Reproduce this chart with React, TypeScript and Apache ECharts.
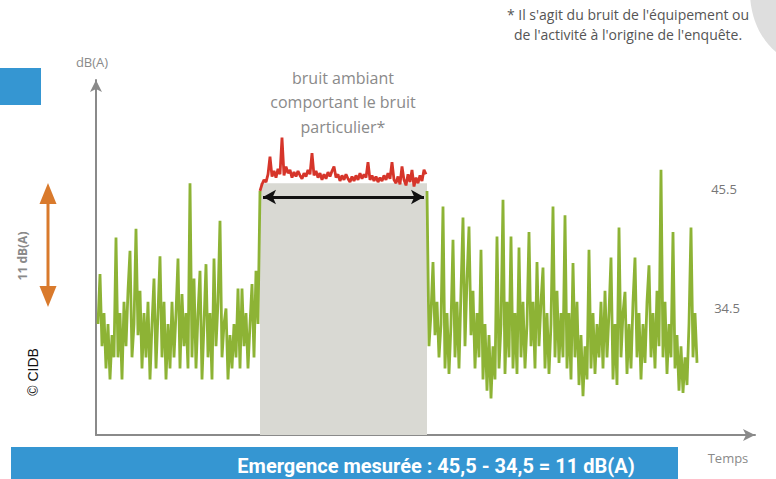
import React, { useEffect, useRef } from "react";
import * as echarts from "echarts";

// Time axis in arbitrary units; sampling step of the signal
const xStep = 2;
const leftStart = 2;
const redStart = 164;
const rightStart = 331;

// Residual noise before the activity (dB(A))
const greenLeft = [
  33, 37.5, 31, 34, 29, 33, 28, 32, 30, 40.8,
  30, 34, 28, 35, 31, 36, 39.6, 30, 33, 41.6,
  32, 36, 29, 34, 30, 35, 28, 33, 37.1, 29,
  34, 39.1, 30, 35, 28, 33, 29, 35, 30, 34,
  38.9, 29, 35.7, 31, 34, 29, 45.7, 30, 37.1, 29,
  34, 37.8, 28, 33, 38.4, 30, 34, 28, 38.9, 31,
  35, 42.3, 30, 33, 34.4, 28, 32, 29, 33, 30,
  36.2, 29, 36.2, 31, 34, 29, 33, 36.6, 30, 37.8,
  33, 45,
];

// Ambient noise including the particular noise (dB(A))
const redValues = [
  45.0, 45.6, 46.0, 45.8, 46.5, 48.1, 46.3, 46.8, 46.2, 47.0,
  46.5, 49.8, 46.4, 47.2, 46.6, 46.9, 46.2, 46.7, 46.3, 46.8,
  46.4, 46.1, 46.6, 46.3, 46.9, 46.5, 48.4, 46.4, 46.8, 46.2,
  46.6, 46.0, 46.5, 46.1, 46.7, 46.3, 46.8, 47.2, 46.2, 46.5,
  45.9, 46.4, 46.0, 46.5, 46.1, 45.8, 46.3, 45.9, 46.4, 46.0,
  46.6, 46.1, 46.5, 46.2, 47.6, 46.0, 46.4, 45.9, 46.3, 45.8,
  46.2, 45.9, 46.4, 46.0, 46.6, 46.1, 47.6, 46.0, 45.7, 46.3,
  45.6, 47.2, 46.0, 45.5, 46.5, 45.8, 46.9, 45.4, 46.2, 45.7,
  46.4, 45.9, 46.9, 46.5,
];

// Residual noise after the activity (dB(A))
const greenRight = [
  45, 31, 34, 38.6, 32, 35, 30, 33, 43.6, 29,
  34, 28.5, 33, 40.6, 30, 35, 29, 36, 42.6, 31,
  37, 41.8, 32, 36, 29, 34, 30, 39.7, 28, 33,
  27, 32, 26.3, 31, 28, 40.9, 29, 33, 44.2, 28.5,
  35, 30, 40.9, 29, 34, 28.5, 39.9, 30, 35, 29,
  33, 41.3, 31, 35, 29, 38.6, 31, 35, 38.1, 29,
  34, 28.5, 33, 43.6, 30, 36, 29.5, 34, 30, 42.8,
  29, 34, 28, 38.5, 30, 35, 27.5, 32, 26.5, 31,
  28, 39.7, 29, 34, 28.5, 33, 30, 35, 29, 36,
  30, 34, 39, 28, 33, 27.5, 41.7, 30, 34, 35.9,
  28.5, 33, 29, 35, 39, 30, 34, 28, 33, 29.5,
  35, 38.3, 30, 34, 29, 36, 31, 46.9, 30, 35,
  28.5, 33, 30, 41.3, 29, 32, 27, 31, 26.8, 30,
  27.5, 33, 41.7, 30, 34, 29.5,
];

const arrowLevel = 44.45;
const boxTop = 45.7;
const yMin = 23;
const yMax = 55;
const xMax = 659;

const labelHigh = "45.5";
const labelLow = "34.5";
const banner = "Emergence mesurée : 45,5 - 34,5 = 11 dB(A)";

const toPairs = (start: number, arr: number[]) =>
  arr.map((v, i) => [start + i * xStep, v]);

export default function App() {
  const ref = useRef<HTMLDivElement>(null);
  useEffect(() => {
    if (!ref.current) return;
    const chart = echarts.init(ref.current, null, { renderer: "svg" });
    const grey = "#8a8a8a";
    const green = "#8db335";
    const orange = "#d97a2c";
    const blue = "#3596d2";
    const font = "'Open Sans', 'Noto Sans', sans-serif";
    chart.setOption({
      animation: false,
      backgroundColor: "#ffffff",
      grid: { left: 96, right: 21, top: 80, bottom: 44 },
      xAxis: {
        type: "value",
        min: 0,
        max: xMax,
        axisLine: {
          show: true,
          symbol: ["none", "arrow"],
          symbolSize: [9, 12],
          lineStyle: { color: grey, width: 2 },
        },
        axisTick: { show: false },
        axisLabel: { show: false },
        splitLine: { show: false },
      },
      yAxis: {
        type: "value",
        min: yMin,
        max: yMax,
        axisLine: {
          show: true,
          symbol: ["none", "arrow"],
          symbolSize: [9, 12],
          lineStyle: { color: grey, width: 2 },
        },
        axisTick: { show: false },
        axisLabel: { show: false },
        splitLine: { show: false },
      },
      series: [
        {
          type: "line",
          name: "bruit résiduel avant",
          data: toPairs(leftStart, greenLeft),
          symbol: "none",
          lineStyle: { color: green, width: 2.8, join: "bevel" },
          z: 3,
          markArea: {
            silent: true,
            itemStyle: { color: "#d9d9d3" },
            data: [[{ xAxis: redStart, yAxis: yMin }, { xAxis: rightStart, yAxis: boxTop }]],
          },
        },
        {
          type: "line",
          name: "bruit ambiant",
          data: toPairs(redStart, redValues),
          symbol: "none",
          lineStyle: { color: "#d6352a", width: 2.8 },
          z: 4,
          markLine: {
            silent: true,
            symbol: ["arrow", "arrow"],
            symbolSize: [11, 13],
            label: { show: false },
            lineStyle: { color: "#111111", width: 3, type: "solid" },
            data: [[{ coord: [redStart + 3, arrowLevel] }, { coord: [rightStart - 3, arrowLevel] }]],
          },
        },
        {
          type: "line",
          name: "bruit résiduel après",
          data: toPairs(rightStart, greenRight),
          symbol: "none",
          lineStyle: { color: green, width: 2.8, join: "bevel" },
          z: 3,
        },
      ],
      graphic: [
        {
          type: "ellipse",
          shape: { cx: 808, cy: -8, rx: 58, ry: 72 },
          style: { fill: "#dedede" },
          silent: true,
        },
        {
          type: "rect",
          shape: { x: 0, y: 68, width: 41, height: 37 },
          style: { fill: blue },
        },
        {
          type: "text",
          x: 628,
          y: 24,
          style: {
            text: "* Il s'agit du bruit de l'équipement ou\nde l'activité à l'origine de l'enquête.",
            textAlign: "center",
            textVerticalAlign: "middle",
            font: `500 14px ${font}`,
            fill: "#555555",
            lineHeight: 20,
          },
        },
        {
          type: "text",
          x: 92,
          y: 62,
          style: {
            text: "dB(A)",
            textAlign: "center",
            textVerticalAlign: "middle",
            font: `13px ${font}`,
            fill: grey,
          },
        },
        {
          type: "text",
          x: 343,
          y: 102,
          style: {
            text: "bruit ambiant\ncomportant le bruit\nparticulier*",
            textAlign: "center",
            textVerticalAlign: "middle",
            font: `16px ${font}`,
            fill: grey,
            lineHeight: 24.5,
          },
        },
        {
          type: "text",
          x: 724,
          y: 189,
          style: {
            text: labelHigh,
            textAlign: "center",
            textVerticalAlign: "middle",
            font: `13px ${font}`,
            fill: "#777777",
          },
        },
        {
          type: "text",
          x: 727,
          y: 308,
          style: {
            text: labelLow,
            textAlign: "center",
            textVerticalAlign: "middle",
            font: `13px ${font}`,
            fill: "#777777",
          },
        },
        {
          type: "text",
          x: 728,
          y: 458,
          style: {
            text: "Temps",
            textAlign: "center",
            textVerticalAlign: "middle",
            font: `13px ${font}`,
            fill: grey,
          },
        },
        {
          type: "line",
          shape: { x1: 48, y1: 200, x2: 48, y2: 290 },
          style: { stroke: orange, lineWidth: 3 },
        },
        {
          type: "polygon",
          shape: { points: [[48, 183], [39.5, 204], [56.5, 204]] },
          style: { fill: orange },
        },
        {
          type: "polygon",
          shape: { points: [[48, 307], [39.5, 286], [56.5, 286]] },
          style: { fill: orange },
        },
        {
          type: "text",
          x: 22,
          y: 256,
          rotation: Math.PI / 2,
          style: {
            text: "11 dB(A)",
            textAlign: "center",
            textVerticalAlign: "middle",
            font: `bold 12px ${font}`,
            fill: grey,
          },
        },
        {
          type: "text",
          x: 33,
          y: 372,
          rotation: Math.PI / 2,
          style: {
            text: "© CIDB",
            textAlign: "center",
            textVerticalAlign: "middle",
            font: "14px 'Liberation Sans Narrow', 'Liberation Sans', sans-serif",
            fill: "#111111",
          },
        },
        {
          type: "rect",
          shape: { x: 11, y: 447, width: 667, height: 32 },
          style: { fill: blue },
        },
        {
          type: "text",
          x: 436,
          y: 466,
          style: {
            text: banner,
            textAlign: "center",
            textVerticalAlign: "middle",
            font: "bold 20px 'Liberation Sans Narrow', 'Roboto', sans-serif",
            fill: "#ffffff",
          },
        },
      ],
    });
    return () => chart.dispose();
  }, []);
  return (
    <div
      ref={ref}
      style={{ position: "fixed", left: 0, top: 0, width: 776, height: 479 }}
    />
  );
}
